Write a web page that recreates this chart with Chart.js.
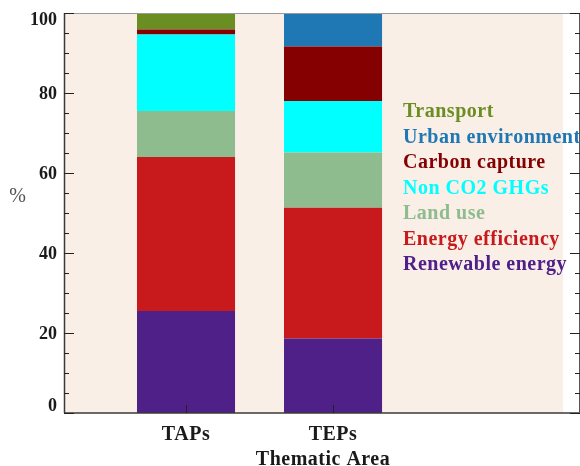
<!DOCTYPE html>
<html>
<head>
<meta charset="utf-8">
<script src="https://cdn.jsdelivr.net/npm/chart.js@4.4.1/dist/chart.umd.min.js"></script>
<style>
  html, body { margin: 0; padding: 0; background: #ffffff; }
  #wrap { width: 580px; height: 466px; }
</style>
</head>
<body>
<div id="wrap"><canvas id="c" width="580" height="466"></canvas></div>
<script>
// ---- data (percent of each programme, stacked bottom to top) ----
const categories = ['TAPs', 'TEPs'];
const seriesNames = ['Renewable energy', 'Energy efficiency', 'Land use', 'Non CO2 GHGs', 'Carbon capture', 'Urban environment', 'Transport'];
const renewableEnergy  = [25.5, 18.6];
const energyEfficiency = [38.5, 32.7];
const landUse          = [11.5, 13.8];
const nonCO2GHGs       = [19.1, 12.9];
const carbonCapture    = [1.3, 13.6];
const urbanEnvironment = [0, 8.4];
const transport        = [4.1, 0];
const yTickValues = [0, 20, 40, 60, 80, 100];
const xTitle = 'Thematic Area';
const yTitle = '%';

const seriesValues = [renewableEnergy, energyEfficiency, landUse, nonCO2GHGs, carbonCapture, urbanEnvironment, transport];
const seriesColors = ['#4e2088', '#c8191c', '#8fbc8f', '#00ffff', '#850000', '#1f77b4', '#6b8e23'];

const SERIF = '"Liberation Serif", "DejaVu Serif", serif';

const datasets = seriesNames.map((name, i) => ({
  label: name,
  data: seriesValues[i].map((v, j) => ({ x: j + 1, y: v })),
  backgroundColor: seriesColors[i],
  borderWidth: 0,
  categoryPercentage: 0.667,
  barPercentage: 1.0
}));

const decorPlugin = {
  id: 'decor',
  beforeDraw(chart) {
    const { ctx, chartArea: a } = chart;
    ctx.save();
    ctx.fillStyle = '#faefe7';
    ctx.fillRect(a.left, a.top, (a.right - 17) - a.left, a.bottom - a.top);
    ctx.restore();
  },
  afterDraw(chart) {
    const { ctx, chartArea: a, scales } = chart;
    const ys = scales.y, xs = scales.x;
    ctx.save();
    // spines
    ctx.lineWidth = 1;
    ctx.strokeStyle = '#9a9a9a';
    ctx.beginPath(); ctx.moveTo(a.left, a.top + 0.5); ctx.lineTo(a.right, a.top + 0.5); ctx.stroke();
    ctx.strokeStyle = '#3a3a3a';
    ctx.lineWidth = 1.5;
    ctx.beginPath(); ctx.moveTo(a.left + 0.5, a.top); ctx.lineTo(a.left + 0.5, a.bottom); ctx.stroke();
    ctx.beginPath(); ctx.moveTo(a.left, a.bottom); ctx.lineTo(a.right, a.bottom); ctx.stroke();
    ctx.lineWidth = 1;
    ctx.strokeStyle = '#555';
    ctx.beginPath(); ctx.moveTo(a.right - 0.5, a.top); ctx.lineTo(a.right - 0.5, a.bottom); ctx.stroke();
    // y ticks (inward), majors every 20, minors every 5
    ctx.strokeStyle = '#222';
    ctx.lineWidth = 1;
    for (let v = 0; v <= 100; v += 5) {
      const y = Math.round(ys.getPixelForValue(v)) + 0.5;
      const len = (v % 20 === 0) ? 10 : 5;
      ctx.beginPath(); ctx.moveTo(a.left, y); ctx.lineTo(a.left + len, y); ctx.stroke();
      ctx.beginPath(); ctx.moveTo(a.right, y); ctx.lineTo(a.right - len, y); ctx.stroke();
    }
    // x ticks (inward) and labels at category centres
    ctx.strokeStyle = '#222';
    ctx.font = 'bold 20px ' + SERIF;
    ctx.fillStyle = '#1a1a1a';
    ctx.textAlign = 'center';
    ctx.textBaseline = 'alphabetic';
    if ('letterSpacing' in ctx) ctx.letterSpacing = '0.5px';
    categories.forEach((c, i) => {
      const xc = xs.getPixelForValue(i + 1);
      const x = Math.round(xc) + 0.5;
      ctx.beginPath(); ctx.moveTo(x, a.bottom); ctx.lineTo(x, a.bottom - 8); ctx.stroke();
      ctx.fillText(c, xc, a.bottom + 27);
    });
    // x title
    ctx.fillText(xTitle, (a.left + a.right) / 2 + 1, a.bottom + 52);
    if ('letterSpacing' in ctx) ctx.letterSpacing = '0px';
    // y tick labels
    ctx.font = 'bold 18px ' + SERIF;
    ctx.textAlign = 'right';
    ctx.textBaseline = 'middle';
    yTickValues.forEach(v => {
      let y = ys.getPixelForValue(v) + 1;
      y = Math.max(a.top + 7.5, Math.min(a.bottom - 6.5, y));
      ctx.fillText(String(v), a.left - 7, y);
    });
    // y title
    ctx.font = '20px ' + SERIF;
    ctx.fillStyle = '#555';
    ctx.textAlign = 'center';
    ctx.fillText(yTitle, 17.5, ys.getPixelForValue(54));
    // legend (text coloured like its series, top series first)
    ctx.font = 'bold 20px ' + SERIF;
    ctx.textAlign = 'left';
    ctx.textBaseline = 'alphabetic';
    if ('letterSpacing' in ctx) ctx.letterSpacing = '0.5px';
    const order = chart.data.datasets.map((d, i) => i).reverse();
    order.forEach((di, k) => {
      const ds = chart.data.datasets[di];
      ctx.fillStyle = ds.backgroundColor;
      ctx.fillText(ds.label, a.left + 339, a.top + 104 + k * 25.5);
    });
    ctx.restore();
  }
};

new Chart(document.getElementById('c'), {
  type: 'bar',
  data: { datasets },
  options: {
    responsive: false,
    animation: false,
    devicePixelRatio: 1,
    layout: { padding: { left: 64, top: 13, right: 0, bottom: 53 } },
    plugins: { legend: { display: false }, tooltip: { enabled: false } },
    scales: {
      x: {
        type: 'linear',
        display: false,
        offset: false,
        stacked: true,
        min: 0.17,
        max: 3.68,
        afterBuildTicks: (scale) => { scale.ticks = categories.map((c, i) => ({ value: i + 1 })); }
      },
      y: {
        stacked: true,
        min: 0,
        max: 100,
        display: false
      }
    }
  },
  plugins: [decorPlugin]
});
</script>
</body>
</html>
